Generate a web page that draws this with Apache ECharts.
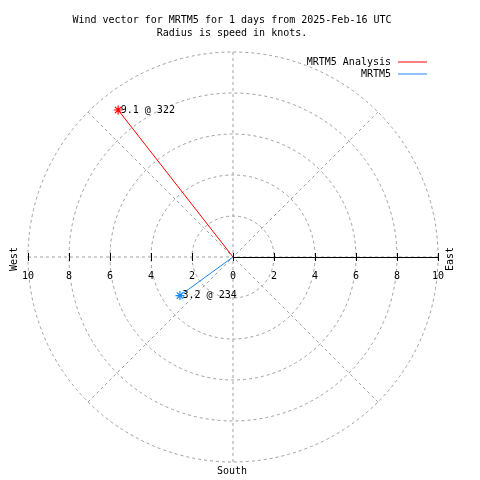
<!DOCTYPE html>
<html>
<head>
<meta charset="utf-8">
<script src="https://cdn.jsdelivr.net/npm/echarts@6/dist/echarts.min.js"></script>
<style>html,body{margin:0;padding:0;background:#fff}#c{width:480px;height:480px}</style>
</head>
<body>
<div id="c"></div>
<script>
const seriesNames = ['MRTM5 Analysis', 'MRTM5'];
const seriesColors = ['#ff0000', '#1a86f0'];
const speeds = [9.1, 3.2];
const directions = [322, 234];
const pointLabels = ['9.1 @ 322', '3.2 @ 234'];
const radiusTicks = [0, 2, 4, 6, 8, 10];
const titleLines = ['Wind vector for MRTM5 for 1 days from 2025-Feb-16 UTC', 'Radius is speed in knots.'];

const FONT = 'DejaVu Sans Mono';
const CX = 233, CY = 257, R = 205;
const gridColor = '#a0a0a0';
const asterisk = 'path://M5,0L5,10M0,5L10,5M1.5,1.5L8.5,8.5M1.5,8.5L8.5,1.5';

const chart = echarts.init(document.getElementById('c'), null, {renderer: 'canvas'});

const series = seriesNames.map((name, i) => ({
  name: name,
  type: 'line',
  coordinateSystem: 'polar',
  polarIndex: 0,
  data: [
    {value: [0, directions[i]], symbol: 'none'},
    {value: [speeds[i], directions[i]], symbol: asterisk, symbolSize: 9,
     label: {show: true, formatter: pointLabels[i], position: 'right', distance: -2.5,
             fontFamily: FONT, fontSize: 10, color: '#000'}}
  ],
  lineStyle: {color: seriesColors[i], width: 1},
  itemStyle: {color: 'transparent', borderColor: seriesColors[i], borderWidth: 1.2},
  color: seriesColors[i],
  silent: true,
  emphasis: {disabled: true},
  z: 10
}));

chart.setOption({
  animation: false,
  backgroundColor: '#fff',
  polar: {center: [CX, CY], radius: R},
  angleAxis: {
    type: 'value', min: 0, max: 360, interval: 45, startAngle: 90, clockwise: true,
    axisLine: {show: false}, axisTick: {show: false}, axisLabel: {show: false},
    splitLine: {show: true, lineStyle: {color: gridColor, type: [3, 3], width: 1}}
  },
  radiusAxis: {
    type: 'value', min: radiusTicks[0], max: radiusTicks[radiusTicks.length - 1], interval: 2,
    axisLine: {show: false}, axisTick: {show: false}, axisLabel: {show: false},
    splitLine: {show: true, lineStyle: {color: gridColor, type: [3, 3], width: 1}}
  },
  grid: [
    {left: CX - R, width: 2 * R, top: CY - 200, height: 200, show: false},
    {left: CX, width: R, top: CY - 200, height: 200, show: false}
  ],
  xAxis: [
    {gridIndex: 0, type: 'value', min: -10, max: 10, interval: 2, position: 'bottom', offset: 0,
     axisLine: {show: false}, splitLine: {show: false},
     axisTick: {show: true, inside: true, length: 4, lineStyle: {color: '#000'}},
     axisLabel: {show: false}, z: 5},
    {gridIndex: 0, type: 'value', min: -10, max: 10, interval: 2, position: 'bottom', offset: 0,
     axisLine: {show: false}, splitLine: {show: false},
     axisTick: {show: true, inside: false, length: 4, lineStyle: {color: '#000'}},
     axisLabel: {show: true, margin: 14, fontFamily: FONT, fontSize: 10, color: '#000',
                 formatter: v => String(Math.abs(v))}, z: 5},
    {gridIndex: 1, type: 'value', min: 0, max: 10, position: 'bottom',
     axisLine: {show: true, lineStyle: {color: '#000', width: 1}}, splitLine: {show: false},
     axisTick: {show: false}, axisLabel: {show: false}, z: 6}
  ],
  yAxis: [
    {gridIndex: 0, type: 'value', show: false},
    {gridIndex: 1, type: 'value', show: false}
  ],
  legend: seriesNames.map((name, i) => ({
    data: [{name: name, icon: 'rect', itemStyle: {color: seriesColors[i], borderWidth: 0}}],
    right: 53, top: 57 + i * 12, padding: 0,
    orient: 'vertical', align: 'right',
    itemWidth: 29, itemHeight: 1, itemGap: 0,
    itemStyle: {borderWidth: 0},
    lineStyle: {width: 0},
    selectedMode: false,
    textStyle: {fontFamily: FONT, fontSize: 10, color: '#000', padding: [0, 2, 0, 0]}
  })),
  graphic: [
    {type: 'text', x: 232, y: 20, style: {text: titleLines[0], font: '10px "DejaVu Sans Mono"', fill: '#000', textAlign: 'center', textVerticalAlign: 'middle'}},
    {type: 'text', x: 232, y: 33, style: {text: titleLines[1], font: '10px "DejaVu Sans Mono"', fill: '#000', textAlign: 'center', textVerticalAlign: 'middle'}},
    {type: 'text', x: 14, y: 259, rotation: Math.PI / 2, style: {text: 'West', font: '10px "DejaVu Sans Mono"', fill: '#000', textAlign: 'center', textVerticalAlign: 'middle'}},
    {type: 'text', x: 450, y: 259, rotation: Math.PI / 2, style: {text: 'East', font: '10px "DejaVu Sans Mono"', fill: '#000', textAlign: 'center', textVerticalAlign: 'middle'}},
    {type: 'text', x: 232, y: 471, style: {text: 'South', font: '10px "DejaVu Sans Mono"', fill: '#000', textAlign: 'center', textVerticalAlign: 'middle'}}
  ],
  series: series
});
</script>
</body>
</html>
